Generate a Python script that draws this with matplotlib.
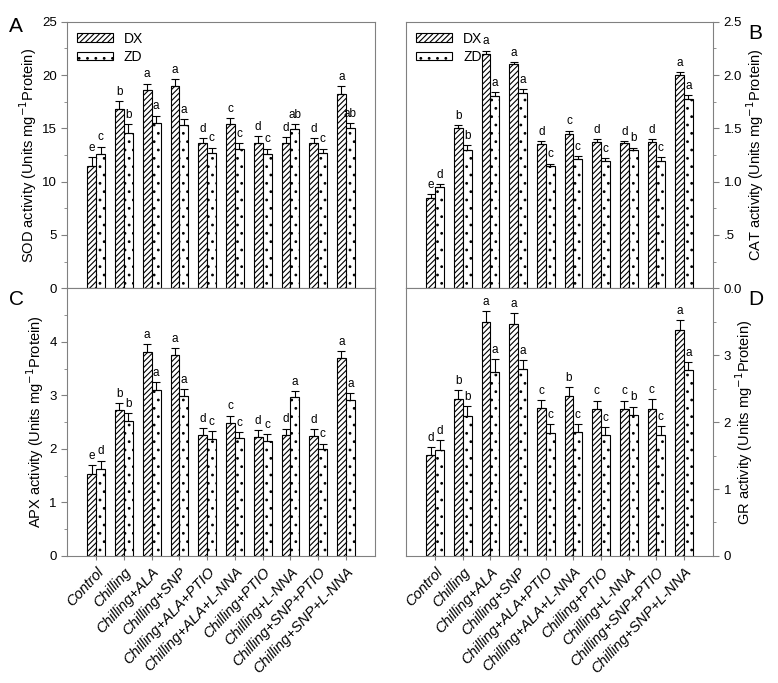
import numpy as np
import matplotlib.pyplot as plt
from matplotlib.ticker import MultipleLocator, FixedFormatter, FixedLocator

plt.rcParams['font.family'] = ['Liberation Sans', 'DejaVu Sans']
plt.rcParams['hatch.linewidth'] = 0.8

treatments = ['Control', 'Chilling', 'Chilling+ALA', 'Chilling+SNP', 'Chilling+ALA+PTIO',
              'Chilling+ALA+L-NNA', 'Chilling+PTIO', 'Chilling+L-NNA',
              'Chilling+SNP+PTIO', 'Chilling+SNP+L-NNA']

# SOD (panel A)
sod_dx = [11.5, 16.8, 18.6, 19.0, 13.6, 15.4, 13.6, 13.6, 13.6, 18.2]
sod_dx_err = [0.8, 0.8, 0.6, 0.6, 0.5, 0.6, 0.7, 0.6, 0.5, 0.8]
sod_zd = [12.6, 14.6, 15.5, 15.3, 12.7, 13.1, 12.6, 14.9, 12.7, 15.0]
sod_zd_err = [0.7, 0.8, 0.7, 0.6, 0.5, 0.5, 0.5, 0.5, 0.4, 0.5]
sod_dx_let = ['e', 'b', 'a', 'a', 'd', 'c', 'd', 'd', 'd', 'a']
sod_zd_let = ['c', 'b', 'a', 'a', 'c', 'c', 'c', 'ab', 'c', 'ab']

# CAT (panel B)
cat_dx = [0.85, 1.50, 2.20, 2.10, 1.35, 1.45, 1.37, 1.36, 1.37, 2.00]
cat_dx_err = [0.03, 0.03, 0.03, 0.02, 0.03, 0.03, 0.03, 0.02, 0.03, 0.03]
cat_zd = [0.95, 1.30, 1.80, 1.83, 1.15, 1.21, 1.19, 1.30, 1.19, 1.78]
cat_zd_err = [0.03, 0.04, 0.04, 0.04, 0.02, 0.03, 0.03, 0.02, 0.04, 0.03]
cat_dx_let = ['e', 'b', 'a', 'a', 'd', 'c', 'd', 'd', 'd', 'a']
cat_zd_let = ['d', 'b', 'a', 'a', 'c', 'c', 'c', 'b', 'c', 'a']

# APX (panel C)
apx_dx = [1.53, 2.73, 3.80, 3.76, 2.25, 2.48, 2.22, 2.25, 2.24, 3.70]
apx_dx_err = [0.17, 0.12, 0.15, 0.12, 0.14, 0.14, 0.13, 0.13, 0.13, 0.12]
apx_zd = [1.63, 2.52, 3.10, 2.98, 2.18, 2.20, 2.15, 2.96, 2.00, 2.91]
apx_zd_err = [0.15, 0.15, 0.14, 0.13, 0.15, 0.12, 0.13, 0.12, 0.10, 0.13]
apx_dx_let = ['e', 'b', 'a', 'a', 'd', 'c', 'd', 'd', 'd', 'a']
apx_zd_let = ['d', 'b', 'a', 'a', 'c', 'c', 'c', 'a', 'c', 'a']

# GR (panel D)
gr_dx = [1.51, 2.35, 3.50, 3.47, 2.21, 2.39, 2.20, 2.19, 2.20, 3.38]
gr_dx_err = [0.12, 0.13, 0.16, 0.16, 0.12, 0.13, 0.12, 0.13, 0.14, 0.14]
gr_zd = [1.58, 2.09, 2.75, 2.80, 1.83, 1.85, 1.80, 2.10, 1.80, 2.78]
gr_zd_err = [0.15, 0.15, 0.19, 0.13, 0.14, 0.12, 0.13, 0.13, 0.14, 0.12]
gr_dx_let = ['d', 'b', 'a', 'a', 'c', 'b', 'c', 'c', 'c', 'a']
gr_zd_let = ['d', 'b', 'a', 'a', 'c', 'c', 'c', 'b', 'c', 'a']

fig = plt.figure(figsize=(7.78, 6.83), dpi=100)
axA = fig.add_axes([0.0861, 0.578, 0.396, 0.390])
axB = fig.add_axes([0.522, 0.578, 0.3945, 0.390])
axC = fig.add_axes([0.0861, 0.186, 0.396, 0.392])
axD = fig.add_axes([0.522, 0.186, 0.3945, 0.392])

x = np.arange(len(treatments))
w = 0.32
spine_col = '#808080'


def draw(ax, dx, dxe, zd, zde, dxl, zdl, ylim, major, minor, ylabel, right=False, labels=None):
    ax.bar(x - w / 2, dx, w, color='white', edgecolor='black', hatch='//////', linewidth=0.8, label='DX')
    ax.bar(x + w / 2, zd, w, color='white', edgecolor='black', hatch='..', linewidth=0.8, label='ZD')
    ax.errorbar(x - w / 2, dx, yerr=[np.zeros(len(dx)), dxe], fmt='none', ecolor='black',
                elinewidth=0.8, capsize=3, capthick=0.8)
    ax.errorbar(x + w / 2, zd, yerr=[np.zeros(len(zd)), zde], fmt='none', ecolor='black',
                elinewidth=0.8, capsize=3, capthick=0.8)
    off = (ylim[1] - ylim[0]) * 0.012
    for i in range(len(x)):
        ax.text(x[i] - w / 2, dx[i] + dxe[i] + off, dxl[i], ha='center', va='bottom', fontsize=8.5)
        ax.text(x[i] + w / 2, zd[i] + zde[i] + off, zdl[i], ha='center', va='bottom', fontsize=8.5)
    ax.set_xlim(-1.05, 10.05)
    ax.set_ylim(*ylim)
    ax.yaxis.set_major_locator(MultipleLocator(major))
    ax.yaxis.set_minor_locator(MultipleLocator(minor))
    for s in ax.spines.values():
        s.set_color(spine_col)
        s.set_linewidth(0.8)
    ax.tick_params(axis='both', which='both', direction='out', color=spine_col, labelsize=9.5)
    ax.tick_params(axis='y', which='major', length=4)
    ax.tick_params(axis='y', which='minor', length=2.5)
    ax.set_xticks(x)
    ax.tick_params(axis='x', length=3)
    if labels is None:
        ax.set_xticklabels([])
    else:
        ax.set_xticklabels(labels, rotation=47, ha='right', rotation_mode='anchor',
                           fontsize=10.5, style='italic')
    if right:
        ax.yaxis.tick_right()
        ax.yaxis.set_label_position('right')
    ax.set_ylabel(ylabel, fontsize=10.5, labelpad=2)


draw(axA, sod_dx, sod_dx_err, sod_zd, sod_zd_err, sod_dx_let, sod_zd_let,
     (0, 25), 5, 2.5, 'SOD activity (Units mg$^{-1}$Protein)')
draw(axB, cat_dx, cat_dx_err, cat_zd, cat_zd_err, cat_dx_let, cat_zd_let,
     (0, 2.5), 0.5, 0.25, 'CAT activity (Units mg$^{-1}$Protein)', right=True)
axB.yaxis.set_major_formatter(FixedFormatter(['0.0', '.5', '1.0', '1.5', '2.0', '2.5']))
axB.yaxis.set_major_locator(FixedLocator([0, 0.5, 1.0, 1.5, 2.0, 2.5]))
draw(axC, apx_dx, apx_dx_err, apx_zd, apx_zd_err, apx_dx_let, apx_zd_let,
     (0, 5), 1, 0.5, 'APX activity (Units mg$^{-1}$Protein)', labels=treatments)
axC.set_yticks([0, 1, 2, 3, 4])
draw(axD, gr_dx, gr_dx_err, gr_zd, gr_zd_err, gr_dx_let, gr_zd_let,
     (0, 4), 1, 0.5, 'GR activity (Units mg$^{-1}$Protein)', right=True, labels=treatments)
axD.set_yticks([0, 1, 2, 3])

for ax in (axA, axB):
    ax.legend(loc='upper left', frameon=False, fontsize=10, handlelength=2.6, handleheight=0.55,
              borderaxespad=0.3, labelspacing=0.3)

fig.text(0.012, 0.975, 'A', fontsize=15, va='top')
fig.text(0.962, 0.965, 'B', fontsize=15, va='top')
fig.text(0.012, 0.575, 'C', fontsize=15, va='top')
fig.text(0.962, 0.575, 'D', fontsize=15, va='top')

fig.savefig('out.png', dpi=100)
